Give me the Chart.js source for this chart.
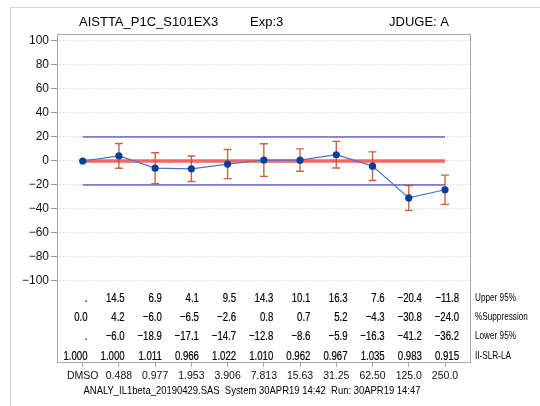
<!DOCTYPE html>
<html>
<head>
<meta charset="utf-8">
<script src="https://cdn.jsdelivr.net/npm/chart.js@4.4.0/dist/chart.umd.min.js"></script>
<style>
html, body { margin: 0; padding: 0; background: #fff; }
#wrap { width: 540px; height: 406px; }
</style>
</head>
<body>
<div id="wrap"><canvas id="grafico"></canvas></div>
<script>
// data
const doses = ['DMSO', '0.488', '0.977', '1.953', '3.906', '7.813', '15.63', '31.25', '62.50', '125.0', '250.0'];
const suppression = [0.0, 4.2, -6.0, -6.5, -2.6, 0.8, 0.7, 5.2, -4.3, -30.8, -24.0];
const upper95 = [null, 14.5, 6.9, 4.1, 9.5, 14.3, 10.1, 16.3, 7.6, -20.4, -11.8];
const lower95 = [null, -6.0, -18.9, -17.1, -14.7, -12.8, -8.6, -5.9, -16.3, -41.2, -36.2];
const slrRatio = [1.000, 1.000, 1.011, 0.966, 1.022, 1.010, 0.962, 0.967, 1.035, 0.983, 0.915];
const yTicks = [-100, -80, -60, -40, -20, 0, 20, 40, 60, 80, 100];
const limitValue = 20;
const rowLabels = ['Upper 95%', '%Suppression', 'Lower 95%', 'II-SLR-LA'];

const SANS = '"Liberation Sans", Arial, sans-serif';

function fmt(v, d) {
    if (v === null) return '.';
    return v.toFixed(d).replace('-', '\u2212');
}

function refLine(y) {
    return [{ x: 0, y: y }, { x: doses.length - 1, y: y }];
}

// texto estrecho (la fuente original es condensada)
function textoEstrecho(ctx, t, x, y, sx, grosor) {
    ctx.save();
    ctx.translate(x, y);
    ctx.scale(sx, 1);
    ctx.fillText(t, 0, 0);
    if (grosor) {
        ctx.lineWidth = grosor;
        ctx.strokeStyle = ctx.fillStyle;
        ctx.strokeText(t, 0, 0);
    }
    ctx.restore();
}

// barras de error y textos del gráfico
const decoracion = {
    id: 'decoracion',
    beforeDraw(chart) {
        const ctx = chart.ctx;
        ctx.save();
        ctx.fillStyle = '#fff';
        ctx.fillRect(0, 0, chart.width, chart.height);
        ctx.strokeStyle = '#d4d4d4';
        ctx.lineWidth = 1;
        ctx.strokeRect(10.5, 7.5, 700, 600);
        ctx.restore();
    },
    beforeDatasetDraw(chart, args) {
        if (args.index !== 0) return;
        const ctx = chart.ctx;
        const x = chart.scales.x, y = chart.scales.y;
        ctx.save();
        ctx.strokeStyle = 'rgba(196,84,40,0.9)';
        ctx.lineWidth = 1.4;
        for (let i = 0; i < doses.length; i++) {
            if (upper95[i] === null || lower95[i] === null) continue;
            const px = x.getPixelForValue(i);
            const top = y.getPixelForValue(upper95[i]);
            const bot = y.getPixelForValue(lower95[i]);
            ctx.beginPath();
            ctx.moveTo(px, top); ctx.lineTo(px, bot);
            ctx.moveTo(px - 4, top); ctx.lineTo(px + 4, top);
            ctx.moveTo(px - 4, bot); ctx.lineTo(px + 4, bot);
            ctx.stroke();
        }
        ctx.restore();
    },
    afterDraw(chart) {
        const ctx = chart.ctx;
        const a = chart.chartArea;
        const xt = chart.scales.xt;
        ctx.save();
        ctx.strokeStyle = '#a8a8a8';
        ctx.lineWidth = 1;
        ctx.strokeRect(Math.round(a.left) + 0.5, Math.round(a.top) + 0.5,
            Math.round(a.right - a.left), Math.round(a.bottom - a.top));

        // título
        ctx.fillStyle = '#000';
        ctx.textBaseline = 'middle';
        ctx.textAlign = 'left';
        ctx.font = '13px ' + SANS;
        ctx.fillText('AISTTA_P1C_S101EX3', 79, 22);
        ctx.fillText('Exp:3', 250, 22);
        ctx.fillText('JDUGE: A', 389, 22);

        // tabla
        const rows = [
            upper95.map(v => fmt(v, 1)),
            suppression.map(v => fmt(v, 1)),
            lower95.map(v => fmt(v, 1)),
            slrRatio.map(v => fmt(v, 3))
        ];
        const rowY = [298, 317, 336, 356];
        ctx.font = '13px ' + SANS;
        ctx.textAlign = 'right';
        rows.forEach((r, k) => {
            r.forEach((t, i) => {
                textoEstrecho(ctx, t, xt.getPixelForValue(i), rowY[k], 0.74, 0.2);
            });
        });
        ctx.font = '10.5px ' + SANS;
        ctx.textAlign = 'left';
        rowLabels.forEach((t, k) => textoEstrecho(ctx, t, 475, rowY[k], 0.78, 0));

        // pie
        ctx.font = '11px ' + SANS;
        ctx.textAlign = 'center';
        textoEstrecho(ctx, 'ANALY_IL1beta_20190429.SAS  System 30APR19 14:42  Run: 30APR19 14:47', 252, 391, 0.86, 0);
        ctx.restore();
    }
};

document.addEventListener('DOMContentLoaded', function() {

new Chart(document.getElementById('grafico').getContext('2d'), {
    type: 'line',
    data: {
        datasets: [{
            label: '%Suppression',
            data: suppression.map((v, i) => ({ x: i, y: v })),
            borderColor: '#4d72c6',
            borderWidth: 1.2,
            pointRadius: 3.6,
            pointBackgroundColor: '#0b3d9e',
            pointBorderColor: '#0b3d9e',
            pointBorderWidth: 0
        }, {
            label: 'cero',
            data: refLine(0),
            borderColor: 'rgba(255,50,50,0.75)',
            borderWidth: 3.5,
            pointRadius: 0
        }, {
            label: 'limite sup',
            data: refLine(limitValue),
            borderColor: '#1c1cc4',
            borderWidth: 1,
            pointRadius: 0
        }, {
            label: 'limite inf',
            data: refLine(-limitValue),
            borderColor: '#1c1cc4',
            borderWidth: 1,
            pointRadius: 0
        }]
    },
    options: {
        responsive: true,
        maintainAspectRatio: false,
        animation: false,
        layout: { padding: { left: 0, top: 34, right: 70, bottom: 14 } },
        plugins: {
            legend: { display: false },
            tooltip: { enabled: false }
        },
        scales: {
            x: {
                type: 'linear',
                min: -0.709,
                max: 10.69,
                afterBuildTicks: s => { s.ticks = doses.map((d, i) => ({ value: i })); },
                afterFit: s => { s.height = 30; },
                ticks: {
                    autoSkip: false,
                    maxRotation: 0,
                    padding: 3,
                    color: '#111',
                    font: { family: SANS, size: 10.5 },
                    callback: v => doses[v]
                },
                grid: { drawOnChartArea: false, drawTicks: true, tickLength: 5, color: '#aaa' },
                border: { display: false }
            },
            xt: {
                type: 'linear',
                display: false,
                min: -0.821,
                max: 10.296
            },
            y: {
                min: -167.5,
                max: 105.8,
                afterBuildTicks: s => { s.ticks = yTicks.map(v => ({ value: v })); },
                afterFit: s => { s.width = 57; },
                ticks: {
                    padding: 2,
                    color: '#111',
                    font: { family: SANS, size: 12 },
                    callback: v => String(v).replace('-', '\u2212')
                },
                grid: { color: '#cdcdcd', tickLength: 6, tickColor: '#999', tickBorderDash: [] },
                border: { display: false, dash: [1, 2] }
            }
        }
    },
    plugins: [decoracion]
});

});
</script>
</body>
</html>
